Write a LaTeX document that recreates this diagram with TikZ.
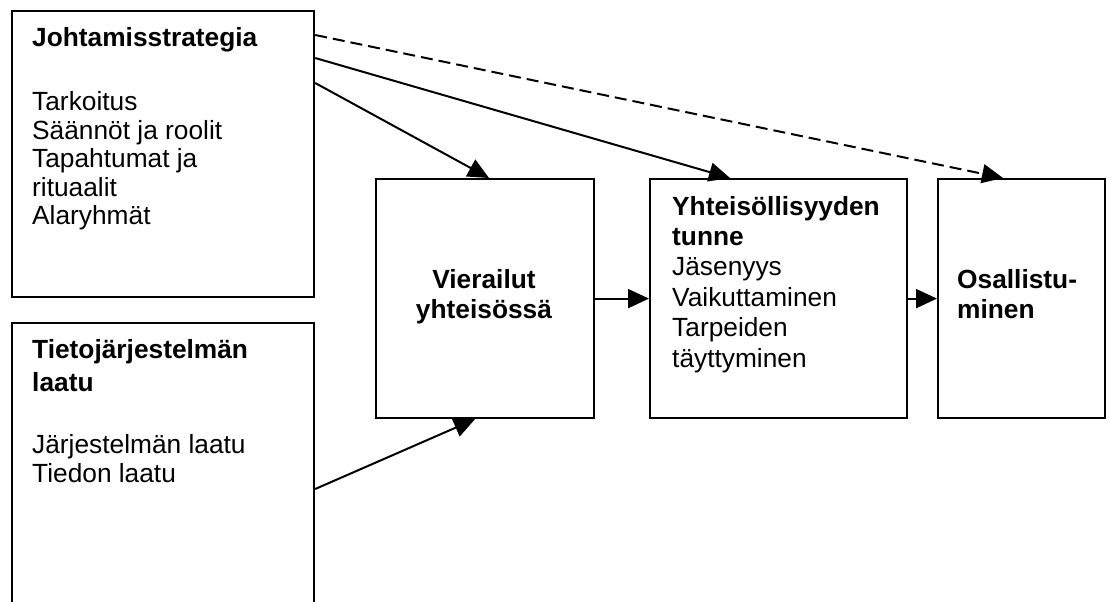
\documentclass[tikz,border=0pt]{standalone}
\usepackage{fontspec}
\setmainfont{Liberation Sans}
\usetikzlibrary{arrows.meta}
\newcommand\txtlines[2]{\begin{tabular}[t]{@{}#1@{}}#2\end{tabular}}
\begin{document}
\begin{tikzpicture}[x=1pt,y=-1pt,
  box/.style={draw, line width=2.2pt, fill=white, rectangle, inner sep=0pt, anchor=north west},
  lbl/.style={inner sep=0pt, anchor=base west, font=\fontsize{26.3}{29}\selectfont},
  arr/.style={line width=2pt, -{Triangle[length=21pt,width=19pt]}},
  dasharr/.style={arr, dash pattern=on 12pt off 6pt},
]
\clip (0,0) rectangle (1109,602);
% boxes
\node[box, minimum width=302pt, minimum height=286pt] (A) at (11,10) {};
\node[box, minimum width=302pt, minimum height=320pt] (B) at (11,322) {};
\node[box, minimum width=218pt, minimum height=239pt] (V) at (375,178) {};
\node[box, minimum width=257pt, minimum height=239pt] (Y) at (649,178) {};
\node[box, minimum width=167pt, minimum height=239pt] (O) at (937,178) {};
% texts
\node[lbl, font=\fontsize{26.3}{28.5}\selectfont] (At) at (32,47)
  {\txtlines{l}{\textbf{Johtamisstrategia}\\[35.5pt] Tarkoitus\\ Säännöt ja roolit\\ Tapahtumat ja\\ rituaalit\\ Alaryhmät}};
\node[lbl] (Bt) at (32,358)
  {\txtlines{l}{\textbf{Tietojärjestelmän}\\[4pt] \textbf{laatu}\\[33pt] Järjestelmän laatu\\ Tiedon laatu}};
\node[lbl, anchor=base, font=\fontsize{26.3}{30}\selectfont] (Vt) at (484,288)
  {\txtlines{c}{\textbf{Vierailut}\\ \textbf{yhteisössä}}};
\node[lbl, font=\fontsize{26.3}{30.4}\selectfont] (Yt) at (672,215)
  {\txtlines{l}{\textbf{Yhteisöllisyyden}\\ \textbf{tunne}\\ Jäsenyys\\ Vaikuttaminen\\ Tarpeiden\\ täyttyminen}};
\node[lbl, font=\fontsize{26.3}{30}\selectfont] (Ot) at (957,288)
  {\txtlines{l}{\textbf{Osallistu-}\\ \textbf{minen}}};
% connectors
\draw[arr] ([yshift=-73pt]A.north east) -- ([xshift=114pt]V.north west);
\draw[arr] ([yshift=-48pt]A.north east) -- ([xshift=81pt]Y.north west);
\draw[dasharr] ([yshift=-25pt]A.north east) -- ([xshift=66pt]O.north west);
\draw[arr] ([yshift=-167pt]B.north east) -- ([xshift=100pt]V.south west);
\draw[arr] (V.east) -- (Y.west);
\draw[arr] (Y.east) -- (O.west);
\end{tikzpicture}
\end{document}
